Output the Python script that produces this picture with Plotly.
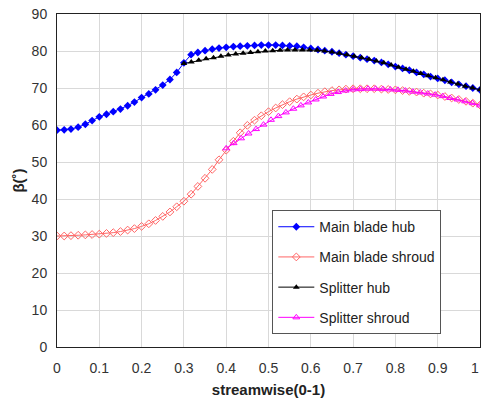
import plotly.graph_objects as go

# ---- data ----
main_x = [0, .017, .033, .05, .067, .083, .1, .117, .133, .15, .167, .183, .2, .217, .233, .25,
          .267, .283, .3, .317, .333, .35, .367, .383, .4, .417, .433, .45, .467, .483, .5,
          .517, .533, .55, .567, .583, .6, .617, .633, .65, .667, .683, .7, .717, .733, .75,
          .767, .783, .8, .817, .833, .85, .867, .883, .9, .917, .933, .95, .967, .983, 1.0]

main_hub = [58.6, 58.7, 58.9, 59.4, 60.2, 61.2, 62.2, 62.9, 63.6, 64.3, 65.2, 66.2, 67.4, 68.4,
            69.5, 70.8, 72.3, 74.2, 76.8, 79.0, 79.6, 80.1, 80.5, 80.8, 81.0, 81.2, 81.3, 81.4,
            81.5, 81.6, 81.6, 81.6, 81.5, 81.4, 81.3, 81.0, 80.7, 80.4, 80.1, 79.8, 79.4, 79.0,
            78.6, 78.2, 77.8, 77.4, 76.9, 76.4, 75.8, 75.3, 74.8, 74.2, 73.7, 73.1, 72.6, 72.1,
            71.5, 71.0, 70.5, 70.0, 69.5]

main_shroud = [30.0, 30.0, 30.1, 30.2, 30.3, 30.4, 30.5, 30.7, 30.9, 31.2, 31.6, 32.0, 32.6,
               33.3, 34.2, 35.3, 36.5, 37.9, 39.4, 41.3, 43.4, 45.6, 48.0, 50.6, 53.2, 55.6,
               57.9, 59.9, 61.3, 62.5, 63.6, 64.6, 65.5, 66.3, 67.0, 67.6, 68.1, 68.6, 69.0,
               69.3, 69.5, 69.7, 69.8, 69.8, 69.8, 69.8, 69.7, 69.6, 69.5, 69.3, 69.1, 68.9,
               68.6, 68.4, 68.1, 67.7, 67.3, 66.9, 66.4, 65.9, 65.4]

split_hub_x = [.3, .3175, .335, .3525, .37, .3875, .405, .4225, .44, .4575, .475, .4925, .51,
               .5275, .545, .5625, .58, .5975, .615, .6325, .65, .6675, .685, .7025, .72, .7375,
               .755, .7725, .79, .8075, .825, .8425, .86, .8775, .895, .9125, .93, .9475, .965,
               .9825, 1.0]
split_hub = [76.6, 77.0, 77.5, 77.9, 78.2, 78.6, 78.9, 79.2, 79.4, 79.6, 79.8, 80.0, 80.1,
             80.2, 80.3, 80.3, 80.3, 80.3, 80.2, 80.0, 79.7, 79.4, 79.0, 78.6, 78.2, 77.8,
             77.3, 76.8, 76.2, 75.6, 75.1, 74.5, 73.9, 73.3, 72.8, 72.2, 71.6, 71.1, 70.5,
             70.0, 69.5]

split_shroud_x = [.4, .4176, .4353, .4529, .4706, .4882, .5059, .5235, .5412, .5588, .5765,
                  .5941, .6118, .6294, .6471, .6647, .6824, .7, .7176, .7353, .7529, .7706,
                  .7882, .8059, .8235, .8412, .8588, .8765, .8941, .9118, .9294, .9471, .9647,
                  .9824, 1.0]
split_shroud = [53.7, 55.1, 56.4, 57.7, 58.9, 60.1, 61.4, 62.4, 63.4, 64.4, 65.3, 66.1, 66.9,
                67.7, 68.4, 68.9, 69.3, 69.6, 69.7, 69.8, 69.8, 69.7, 69.6, 69.5, 69.3, 69.0,
                68.8, 68.5, 68.2, 67.8, 67.3, 66.9, 66.4, 65.9, 65.3]

x_ticks = [0, 0.1, 0.2, 0.3, 0.4, 0.5, 0.6, 0.7, 0.8, 0.9, 1]
x_tick_labels = ["0", "0.1", "0.2", "0.3", "0.4", "0.5", "0.6", "0.7", "0.8", "0.9", "1"]
y_ticks = [0, 10, 20, 30, 40, 50, 60, 70, 80, 90]

FONT = "Liberation Sans, Arial, sans-serif"

fig = go.Figure()
fig.add_trace(go.Scatter(x=main_x, y=main_hub, mode="lines+markers", name="Main blade hub",
                         legendgroup="a",
                         line=dict(color="#0000ff", width=1),
                         marker=dict(symbol="diamond", size=6, color="#0000ff")))
fig.add_trace(go.Scatter(x=main_x, y=main_shroud, mode="lines+markers", name="Main blade shroud",
                         legendgroup="b",
                         line=dict(color="#ff6666", width=1),
                         marker=dict(symbol="diamond-open", size=6, color="#ff6666",
                                     line=dict(width=1))))
fig.add_trace(go.Scatter(x=split_hub_x, y=split_hub, mode="lines+markers", name="Splitter hub",
                         legendgroup="c",
                         line=dict(color="#000000", width=1),
                         marker=dict(symbol="triangle-up", size=6, color="#000000")))
fig.add_trace(go.Scatter(x=split_shroud_x, y=split_shroud, mode="lines+markers",
                         name="Splitter shroud", legendgroup="d",
                         line=dict(color="#ff00ff", width=1),
                         marker=dict(symbol="triangle-up-open", size=6, color="#ff00ff",
                                     line=dict(width=1))))

# the last x tick label sits at the right page edge; draw it right-anchored so it stays whole
shown_tick_labels = x_tick_labels[:-1] + [""]
fig.add_annotation(x=x_ticks[-1], xref="x", y=0, yref="paper", text=x_tick_labels[-1],
                   showarrow=False, xanchor="right", yanchor="middle", xshift=1, yshift=-21,
                   font=dict(family=FONT, size=14, color="#333333"))

fig.update_layout(
    width=482, height=400,
    margin=dict(l=57, r=2, t=14, b=53, autoexpand=False),
    paper_bgcolor="white", plot_bgcolor="white",
    font=dict(family=FONT, size=14, color="#333333"),
    legend=dict(x=0.509, y=0.411, xanchor="left", yanchor="top",
                bgcolor="white", bordercolor="#555555", borderwidth=1,
                font=dict(family=FONT, size=14, color="#222222"),
                tracegroupgap=9, itemwidth=36, entrywidth=150, entrywidthmode="pixels"),
    xaxis=dict(range=[0, 1], tickvals=x_ticks, ticktext=shown_tick_labels, automargin=False,
               showgrid=True, gridcolor="#d9d9d9", gridwidth=1,
               showline=True, linecolor="#222222", linewidth=1, mirror=True,
               zeroline=False, ticks="", ticklabelstandoff=8,
               tickfont=dict(size=14, color="#333333"),
               title=dict(text="<b>streamwise(0-1)</b>", standoff=9,
                          font=dict(size=15, color="#222222"))),
    yaxis=dict(range=[0, 90], tickvals=y_ticks, automargin=False,
               showgrid=True, gridcolor="#d9d9d9", gridwidth=1,
               showline=True, linecolor="#222222", linewidth=1, mirror=True,
               zeroline=False, ticks="", ticklabelstandoff=6, ticklabeloverflow="allow",
               tickfont=dict(size=14, color="#333333"),
               title=dict(text="<b>β(˚)</b>", standoff=3,
                          font=dict(size=15, color="#222222"))),
)

fig.write_html("out.html", config={"displayModeBar": False},
               post_script="document.body.style.margin='0px';document.body.style.overflow='hidden';")
